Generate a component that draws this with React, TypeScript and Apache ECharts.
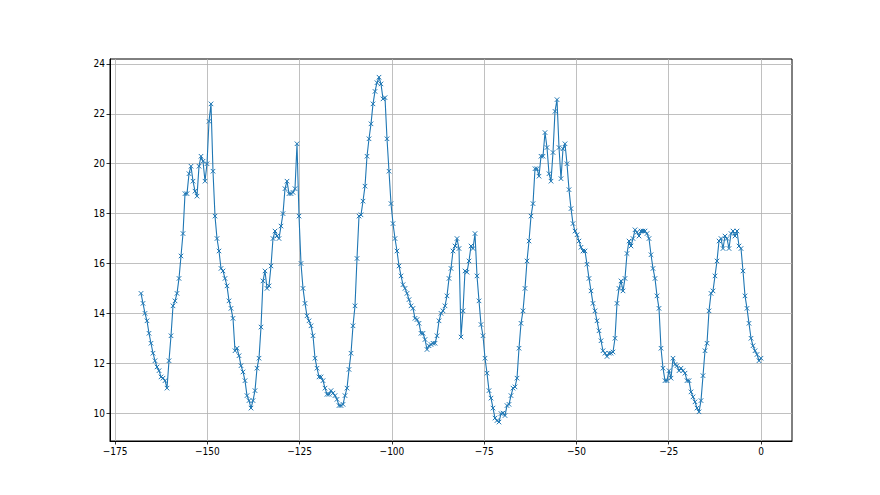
import React, { useEffect, useRef } from "react";
import * as echarts from "echarts";

// Hourly-ish readings over the last 168 hours (x runs from -168 to 0)
const X_START = -168;
const X_END = 0;

const VALUES: number[] = [
  14.8, 14.4, 14.0, 13.7, 13.2, 12.8, 12.4, 12.1, 11.85, 11.7,
  11.45, 11.4, 11.3, 11.0, 12.1, 13.1, 14.3, 14.5, 14.8, 15.4,
  16.3, 17.2, 18.8, 18.8, 19.6, 19.9, 19.3, 18.9, 18.7, 19.9,
  20.3, 20.1, 19.3, 20.0, 21.7, 22.4, 19.7, 17.9, 17.0, 16.5,
  15.8, 15.7, 15.4, 15.1, 14.5, 14.2, 13.8, 12.5, 12.6, 12.3,
  11.9, 11.65, 11.3, 10.7, 10.5, 10.2, 10.5, 10.9, 11.8, 12.2,
  13.45, 15.3, 15.7, 15.0, 15.1, 15.9, 17.0, 17.3, 17.1, 17.0,
  17.5, 18.0, 19.0, 19.3, 18.8, 18.8, 18.85, 19.0, 20.8, 17.9,
  16.0, 15.0, 14.4, 13.9, 13.7, 13.5, 13.1, 12.2, 11.8, 11.45,
  11.45, 11.3, 11.0, 10.75, 10.75, 10.9, 10.8, 10.7, 10.55, 10.3,
  10.3, 10.35, 10.7, 11.0, 11.75, 12.4, 13.5, 14.3, 16.2, 17.9,
  17.95, 18.5, 19.1, 20.3, 21.0, 21.6, 22.4, 22.9, 23.25, 23.47,
  23.2, 22.6, 22.65, 21.0, 19.7, 18.4, 17.6, 17.0, 16.5, 15.9,
  15.5, 15.15, 15.0, 14.8, 14.55, 14.3, 14.2, 13.8, 13.75, 13.6,
  13.2, 13.2, 12.95, 12.55, 12.7, 12.75, 12.8, 12.8, 13.1, 13.7,
  14.0, 14.1, 14.3, 14.7, 15.4, 15.8, 16.5, 16.7, 17.0, 16.6,
  13.05, 14.1, 15.7, 15.65, 16.1, 16.7, 16.6, 17.2, 15.5, 14.5,
  13.55, 13.1, 12.2, 11.6, 10.9, 10.6, 10.2, 9.8, 9.7, 9.64,
  9.98, 10.0, 9.9, 10.3, 10.35, 10.7, 11.0, 11.05, 11.4, 12.6,
  13.6, 14.1, 15.0, 16.1, 16.9, 17.9, 18.4, 19.8, 19.8, 19.5,
  20.3, 20.3, 21.25, 20.65, 19.6, 19.3, 20.45, 22.1, 22.57, 20.65,
  19.4, 20.6, 20.8, 20.0, 18.96, 18.2, 17.6, 17.3, 17.15, 16.9,
  16.65, 16.5, 16.5, 15.97, 15.4, 14.9, 14.4, 14.1, 13.7, 13.3,
  12.9, 12.5, 12.4, 12.27, 12.4, 12.4, 12.45, 13.0, 14.4, 15.0,
  15.3, 14.9, 15.4, 16.4, 16.9, 16.7, 17.0, 17.35, 17.25, 17.1,
  17.3, 17.3, 17.3, 17.2, 17.0, 16.35, 15.8, 15.4, 14.7, 14.2,
  12.6, 11.8, 11.3, 11.3, 11.7, 11.4, 12.2, 11.95, 11.9, 11.7,
  11.8, 11.7, 11.6, 11.3, 11.3, 10.85, 10.65, 10.45, 10.2, 10.05,
  10.5, 11.5, 12.5, 12.8, 14.1, 14.8, 14.9, 15.5, 16.1, 16.9,
  17.0, 16.6, 17.1, 17.0, 16.6, 17.2, 17.3, 17.1, 17.3, 16.7,
  16.6, 15.7, 14.7, 14.2, 13.6, 13.0, 12.7, 12.5, 12.35, 12.1,
  12.2,
];

const X_TICKS = [-175, -150, -125, -100, -75, -50, -25, 0];
const Y_TICKS = [10, 12, 14, 16, 18, 20, 22, 24];

const LINE_COLOR = "#1f77b4";
const FONT = "'Liberation Sans Narrow', 'DejaVu Sans Condensed', 'Liberation Sans', sans-serif";

const fmt = (v: number) => String(v).replace("-", "\u2212");

export default function App() {
  const ref = useRef<HTMLDivElement>(null);

  useEffect(() => {
    if (!ref.current) return;
    const chart = echarts.init(ref.current, undefined, { renderer: "svg" });
    const n = VALUES.length;
    const data = VALUES.map((v, i) => [X_START + (i * (X_END - X_START)) / (n - 1), v]);

    chart.setOption({
      animation: false,
      backgroundColor: "#fff",
      grid: {
        left: 110,
        right: 88,
        top: 59,
        bottom: 54,
        show: true,
        borderColor: "#000",
        borderWidth: 1,
        backgroundColor: "transparent",
        outerBoundsMode: "none",
        containLabel: false,
      },
      xAxis: {
        type: "value",
        min: -176.4,
        max: 8.4,
        axisLine: { show: true, onZero: false, lineStyle: { color: "#000", width: 1 } },
        axisTick: { show: true, length: 3.5, customValues: X_TICKS, lineStyle: { color: "#000", width: 0.8 } },
        axisLabel: {
          customValues: X_TICKS,
          formatter: (v: number) => fmt(v),
          color: "#000",
          fontSize: 10,
          fontFamily: FONT,
          margin: 5,
        },
        splitLine: { show: true, lineStyle: { color: "#b0b0b0", width: 0.8 } },
      },
      yAxis: {
        type: "value",
        min: 8.88,
        max: 24.2,
        axisLine: { show: true, onZero: false, lineStyle: { color: "#000", width: 1 } },
        axisTick: { show: true, length: 3.5, customValues: Y_TICKS, lineStyle: { color: "#000", width: 0.8 } },
        axisLabel: {
          customValues: Y_TICKS,
          formatter: (v: number) => fmt(v),
          color: "#000",
          fontSize: 10,
          fontFamily: FONT,
          margin: 5,
        },
        splitLine: { show: true, lineStyle: { color: "#b0b0b0", width: 0.8 } },
      },
      series: [
        {
          type: "line",
          data,
          showSymbol: true,
          symbol: "path://M0,0L10,10M10,0L0,10",
          symbolSize: 4.5,
          lineStyle: { color: LINE_COLOR, width: 1.1 },
          itemStyle: { color: LINE_COLOR, borderColor: LINE_COLOR, borderWidth: 1 },
          emphasis: { disabled: true },
        },
      ],
    });
    return () => chart.dispose();
  }, []);

  return (
    <div
      ref={ref}
      style={{ position: "fixed", left: 0, top: 0, width: 880, height: 495, background: "#fff" }}
    />
  );
}
